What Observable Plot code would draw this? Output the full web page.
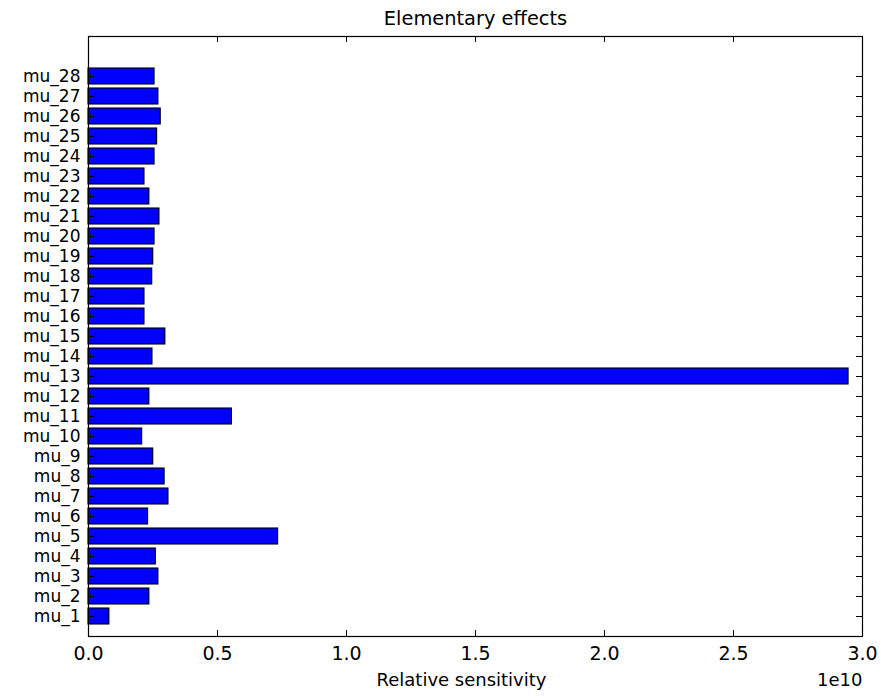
<!DOCTYPE html>
<html>
<head>
<meta charset="utf-8">
<script src="https://cdn.jsdelivr.net/npm/d3@7"></script>
<script src="https://cdn.jsdelivr.net/npm/@observablehq/plot@0.6"></script>
<style>
  html, body { margin: 0; padding: 0; background: #fff; }
  #chart { position: relative; width: 881px; height: 698px; }
</style>
</head>
<body>
<div id="chart"></div>
<script>
// Categories (bottom to top) and values in units of 1e10
const labels = ["mu_1","mu_2","mu_3","mu_4","mu_5","mu_6","mu_7","mu_8","mu_9","mu_10",
  "mu_11","mu_12","mu_13","mu_14","mu_15","mu_16","mu_17","mu_18","mu_19","mu_20",
  "mu_21","mu_22","mu_23","mu_24","mu_25","mu_26","mu_27","mu_28"];
const values = [0.081, 0.236, 0.271, 0.261, 0.735, 0.231, 0.310, 0.295, 0.251, 0.208,
  0.556, 0.236, 2.946, 0.248, 0.298, 0.217, 0.217, 0.247, 0.251, 0.256,
  0.275, 0.236, 0.217, 0.256, 0.266, 0.280, 0.271, 0.256];
const xTicks = [0, 0.5, 1.0, 1.5, 2.0, 2.5, 3.0];
const xTickLabels = ["0.0", "0.5", "1.0", "1.5", "2.0", "2.5", "3.0"];
const title = "Elementary effects";
const xLabel = "Relative sensitivity";
const xExponent = "1e10";

const data = labels.map((name, i) => ({name, pos: i + 1, value: values[i]}));
const positions = data.map(d => d.pos);

const W = 881, H = 698;
const mL = 88, mR = 19, mT = 36, mB = 62;
const innerW = W - mL - mR, innerH = H - mT - mB;
const tickLen = 6;
const font = "'DejaVu Sans', sans-serif";

const chart = Plot.plot({
  width: W,
  height: H,
  marginLeft: mL, marginRight: mR, marginTop: mT, marginBottom: mB,
  style: {fontFamily: font, fontSize: "16px", color: "black", background: "white"},
  x: {domain: [0, 3.0]},
  y: {domain: [0, 30]},
  marks: [
    Plot.rect(data, {
      x1: 0, x2: "value",
      y1: d => d.pos - 0.4, y2: d => d.pos + 0.4,
      fill: "#0000ff", stroke: "black", strokeWidth: 1.1
    }),
    // inward ticks, four sides
    Plot.tickX(xTicks, {x: d => d, insetTop: innerH - tickLen, stroke: "black"}),
    Plot.tickX(xTicks, {x: d => d, insetBottom: innerH - tickLen, stroke: "black"}),
    Plot.tickY(positions, {y: d => d, insetRight: innerW - tickLen, stroke: "black"}),
    Plot.tickY(positions, {y: d => d, insetLeft: innerW - tickLen, stroke: "black"}),
    Plot.axisX({ticks: xTicks, tickSize: 0, tickPadding: 10,
      tickFormat: d => xTickLabels[xTicks.indexOf(d)], fontSize: 19, label: null}),
    Plot.axisY({ticks: positions, tickSize: 0, tickPadding: 8,
      tickFormat: d => labels[d - 1], fontSize: 17, label: null}),
    Plot.frame({stroke: "black", strokeWidth: 1.2}),
    Plot.text([title], {frameAnchor: "top", dy: -mT + 18, lineAnchor: "middle", text: d => d, fontSize: 19.4}),
    Plot.text([xLabel], {frameAnchor: "bottom", dx: -14, dy: 37, lineAnchor: "top", text: d => d, fontSize: 18}),
    Plot.text([xExponent], {frameAnchor: "bottom-right", dy: 37, lineAnchor: "top", textAnchor: "end", text: d => d, fontSize: 18})
  ]
});
document.getElementById("chart").appendChild(chart);
</script>
</body>
</html>
